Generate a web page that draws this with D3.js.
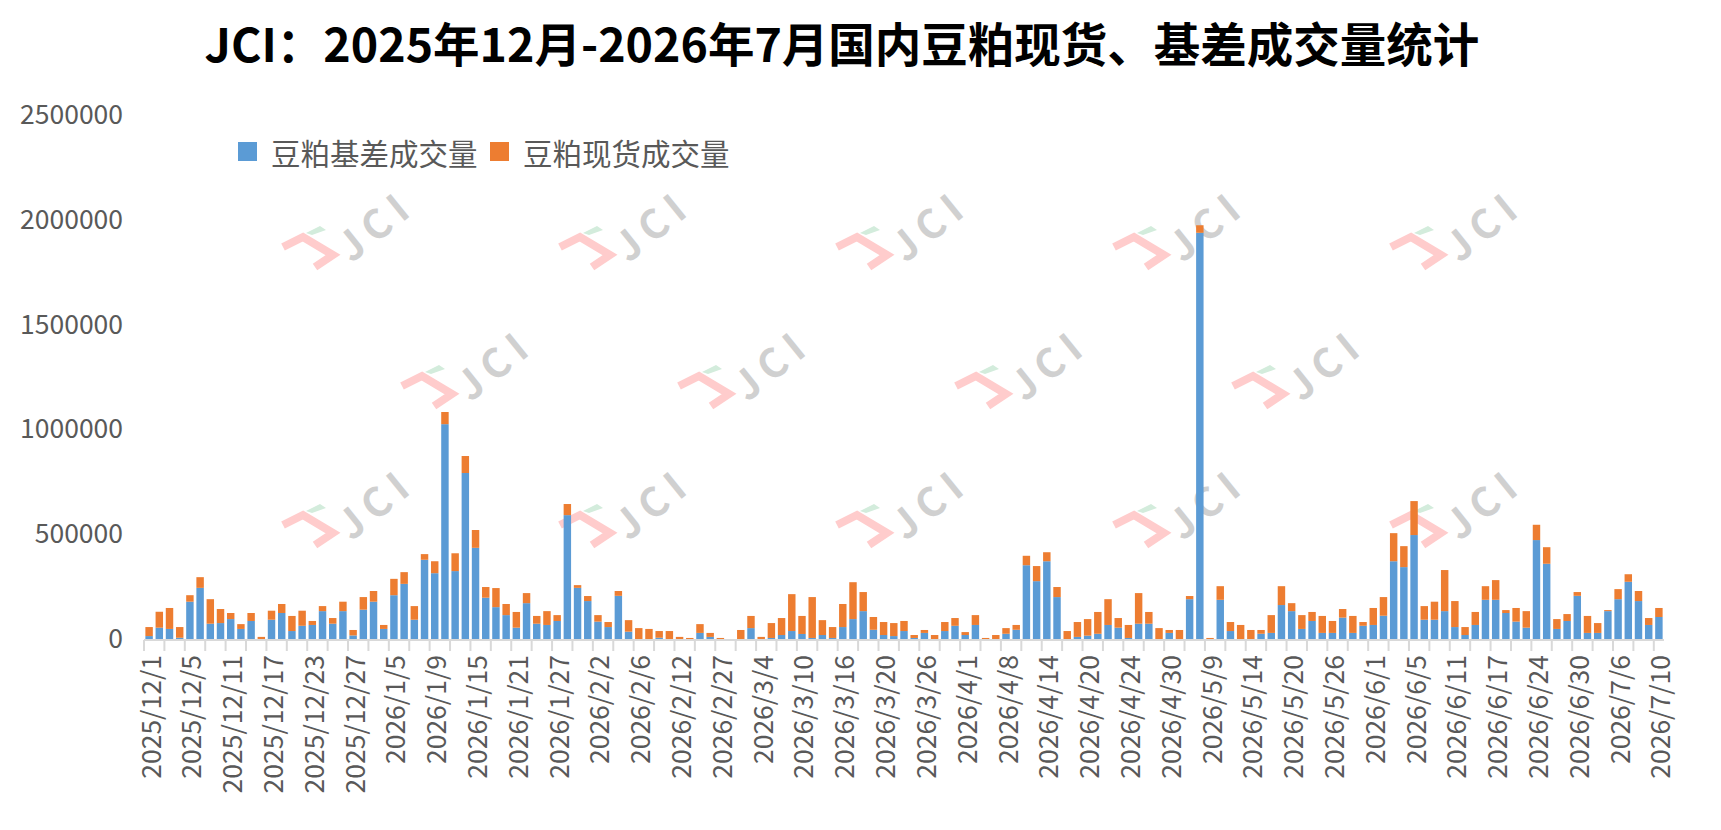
<!DOCTYPE html>
<html>
<head>
<meta charset="utf-8">
<script src="https://cdn.jsdelivr.net/npm/d3@7"></script>
<style>
  body { margin: 0; background: #fff; }
  text { font-family: "Noto Sans CJK SC", "Noto Sans", sans-serif; }
</style>
</head>
<body>
<svg id="chart" width="1721" height="830"></svg>
<script>
// trading days, one bar each
const dates = [
  "2025/12/1","2025/12/2","2025/12/3","2025/12/4","2025/12/5","2025/12/8","2025/12/9","2025/12/10",
  "2025/12/11","2025/12/12","2025/12/15","2025/12/16","2025/12/17","2025/12/18","2025/12/19","2025/12/22",
  "2025/12/23","2025/12/24","2025/12/25","2025/12/26","2025/12/27","2025/12/29","2025/12/30","2025/12/31",
  "2026/1/5","2026/1/6","2026/1/7","2026/1/8","2026/1/9","2026/1/12","2026/1/13","2026/1/14",
  "2026/1/15","2026/1/16","2026/1/19","2026/1/20","2026/1/21","2026/1/22","2026/1/23","2026/1/26",
  "2026/1/27","2026/1/28","2026/1/29","2026/1/30","2026/2/2","2026/2/3","2026/2/4","2026/2/5",
  "2026/2/6","2026/2/9","2026/2/10","2026/2/11","2026/2/12","2026/2/13","2026/2/25","2026/2/26",
  "2026/2/27","2026/2/28","2026/3/2","2026/3/3","2026/3/4","2026/3/5","2026/3/6","2026/3/9",
  "2026/3/10","2026/3/11","2026/3/12","2026/3/13","2026/3/16","2026/3/17","2026/3/18","2026/3/19",
  "2026/3/20","2026/3/23","2026/3/24","2026/3/25","2026/3/26","2026/3/27","2026/3/30","2026/3/31",
  "2026/4/1","2026/4/2","2026/4/3","2026/4/7","2026/4/8","2026/4/9","2026/4/10","2026/4/13",
  "2026/4/14","2026/4/15","2026/4/16","2026/4/17","2026/4/20","2026/4/21","2026/4/22","2026/4/23",
  "2026/4/24","2026/4/27","2026/4/28","2026/4/29","2026/4/30","2026/5/6","2026/5/7","2026/5/8",
  "2026/5/9","2026/5/11","2026/5/12","2026/5/13","2026/5/14","2026/5/15","2026/5/18","2026/5/19",
  "2026/5/20","2026/5/21","2026/5/22","2026/5/25","2026/5/26","2026/5/27","2026/5/28","2026/5/29",
  "2026/6/1","2026/6/2","2026/6/3","2026/6/4","2026/6/5","2026/6/8","2026/6/9","2026/6/10",
  "2026/6/11","2026/6/12","2026/6/15","2026/6/16","2026/6/17","2026/6/18","2026/6/22","2026/6/23",
  "2026/6/24","2026/6/25","2026/6/26","2026/6/29","2026/6/30","2026/7/1","2026/7/2","2026/7/3",
  "2026/7/6","2026/7/7","2026/7/8","2026/7/9","2026/7/10"
];

// 豆粕基差成交量 (blue)
const basis = [
  14000,54000,48000,6000,178000,244000,73000,76000,
  95000,48000,86000,0,92000,124000,38000,63000,
  67000,133000,73000,133000,17000,140000,178000,48000,
  209000,263000,92000,378000,314000,1025000,324000,792000,
  435000,197000,152000,114000,54000,171000,73000,67000,
  86000,591000,244000,181000,83000,57000,206000,35000,
  0,0,6000,0,0,0,29000,10000,
  0,0,0,52000,0,5000,19000,38000,
  24000,5000,19000,5000,57000,95000,133000,44000,
  19000,14000,38000,5000,29000,0,38000,63000,
  19000,67000,0,0,25000,44000,352000,276000,
  371000,200000,0,10000,16000,25000,67000,54000,
  5000,73000,73000,0,29000,0,190000,1938000,
  0,187000,38000,0,0,25000,29000,162000,
  133000,48000,86000,29000,29000,102000,29000,63000,
  67000,111000,371000,343000,496000,92000,92000,133000,
  57000,19000,67000,187000,187000,124000,83000,54000,
  472000,359000,48000,86000,206000,29000,29000,133000,
  190000,273000,181000,67000,105000
];

// 豆粕现货成交量 (orange)
const spot = [
  43000,76000,100000,51000,31000,51000,117000,67000,
  29000,23000,38000,10000,43000,43000,72000,72000,
  19000,24000,27000,45000,26000,60000,51000,19000,
  78000,56000,65000,27000,57000,58000,85000,81000,
  85000,51000,91000,53000,75000,48000,37000,66000,
  28000,53000,13000,24000,31000,24000,23000,55000,
  52000,48000,32000,38000,10000,5000,42000,19000,
  5000,0,43000,58000,10000,71000,81000,176000,
  86000,195000,71000,52000,110000,176000,91000,61000,
  62000,62000,48000,14000,14000,19000,43000,37000,
  14000,47000,5000,19000,27000,23000,45000,72000,
  43000,48000,38000,71000,79000,104000,123000,46000,
  62000,146000,56000,52000,14000,43000,15000,36000,
  5000,65000,43000,67000,43000,18000,85000,90000,
  38000,66000,43000,81000,57000,41000,81000,18000,
  81000,89000,134000,100000,162000,65000,86000,196000,
  124000,38000,62000,65000,94000,14000,65000,79000,
  73000,79000,47000,33000,18000,81000,47000,5000,
  48000,36000,48000,33000,43000
];

const seriesNames = ["豆粕基差成交量", "豆粕现货成交量"];
const colors = ["#5b9bd5", "#ed7d31"];
const yTicks = [0, 500000, 1000000, 1500000, 2000000, 2500000];

const svg = d3.select("#chart");
const plotLeft = 144, plotRight = 1664, plotTop = 115, plotBottom = 639;

const x = d3.scaleBand().domain(dates).range([plotLeft, plotRight])
  .paddingInner(0.27).paddingOuter(0.135);
const y = d3.scaleLinear().domain([0, 2500000]).range([plotBottom, plotTop]);

// watermark logos, behind everything
const wm = svg.append("g").attr("class", "watermark");
function logo(cx, cy) {
  const g = wm.append("g").attr("transform", `translate(${cx},${cy})`);
  g.append("path")
    .attr("d", "M-62,15L-42,5L-12,23L-30,35")
    .attr("fill", "none").attr("stroke", "#ffcccc")
    .attr("stroke-width", 8).attr("stroke-linejoin", "miter");
  g.append("path")
    .attr("d", "M-39,1L-25,-6L-19,-2L-33,3Z")
    .attr("fill", "#d3ecdc");
  g.append("text")
    .attr("transform", "translate(26,-6) rotate(-39)")
    .attr("text-anchor", "middle").attr("dominant-baseline", "central")
    .attr("font-size", 40).attr("font-weight", 700)
    .attr("fill", "#d0d0d0")
    .attr("textLength", 78).attr("lengthAdjust", "spacing")
    .text("JCI");
}
for (let r = 0; r < 3; r++) {
  const odd = r === 1;
  const n = odd ? 4 : 5;
  for (let c = 0; c < n; c++) {
    logo(345 + (odd ? 119 : 0) + c * 277, 232 + r * 139);
  }
}

// title
svg.append("text")
  .attr("x", 842).attr("y", 62)
  .attr("text-anchor", "middle")
  .attr("font-size", 46.5).attr("font-weight", 700)
  .attr("fill", "#000")
  .text("JCI：2025年12月-2026年7月国内豆粕现货、基差成交量统计");

// y axis labels
const yAxis = svg.append("g")
  .attr("transform", `translate(${plotLeft},0)`)
  .call(d3.axisLeft(y).tickValues(yTicks).tickFormat(d3.format("d")).tickSize(0).tickPadding(21));
yAxis.select(".domain").remove();
yAxis.selectAll("text")
  .attr("font-size", 26.5).attr("fill", "#595959")
  .style("font-family", '"Noto Sans CJK SC", sans-serif');

// stacked bars
const rows = dates.map((d, i) => ({ date: d, basis: basis[i], spot: spot[i] }));
const stacked = d3.stack().keys(["basis", "spot"])(rows);

svg.append("g").selectAll("g")
  .data(stacked)
  .join("g")
  .attr("fill", (d, i) => colors[i])
  .selectAll("rect")
  .data(d => d)
  .join("rect")
  .attr("x", d => x(d.data.date))
  .attr("width", x.bandwidth())
  .attr("y", d => y(d[1]))
  .attr("height", d => y(d[0]) - y(d[1]));

// x axis line and tick marks every two categories
const axisG = svg.append("g");
axisG.append("line")
  .attr("x1", plotLeft).attr("x2", plotRight)
  .attr("y1", plotBottom + 1).attr("y2", plotBottom + 1)
  .attr("stroke", "#d9d9d9").attr("stroke-width", 2);
const step = x.step();
const boundaries = d3.range(0, dates.length + 1, 2).map(i => plotLeft + i * step);
axisG.selectAll("line.tick")
  .data(boundaries)
  .join("line")
  .attr("class", "tick")
  .attr("x1", d => d).attr("x2", d => d)
  .attr("y1", plotBottom + 1).attr("y2", plotBottom + 12)
  .attr("stroke", "#d9d9d9").attr("stroke-width", 2);

// x labels every fourth date
const xAxis = svg.append("g")
  .attr("transform", `translate(0,${plotBottom})`)
  .call(d3.axisBottom(x).tickValues(dates.filter((d, i) => i % 4 === 0)).tickSize(0));
xAxis.select(".domain").remove();
xAxis.selectAll("text")
  .attr("font-size", 26.5).attr("fill", "#595959")
  .style("font-family", '"Noto Sans CJK SC", sans-serif')
  .attr("text-anchor", "end")
  .attr("dominant-baseline", "central")
  .attr("transform", "translate(0,16) rotate(-90)")
  .attr("x", 0).attr("y", 0).attr("dy", null);

// legend
const legend = svg.append("g").attr("transform", "translate(238,142)");
const legendX = [0, 252];
seriesNames.forEach((name, i) => {
  const g = legend.append("g").attr("transform", `translate(${legendX[i]},0)`);
  g.append("rect").attr("width", 19).attr("height", 19).attr("fill", colors[i]);
  g.append("text")
    .attr("x", 33).attr("y", 10)
    .attr("dominant-baseline", "central")
    .attr("font-size", 29.5).attr("fill", "#595959")
    .text(name);
});
</script>
</body>
</html>
